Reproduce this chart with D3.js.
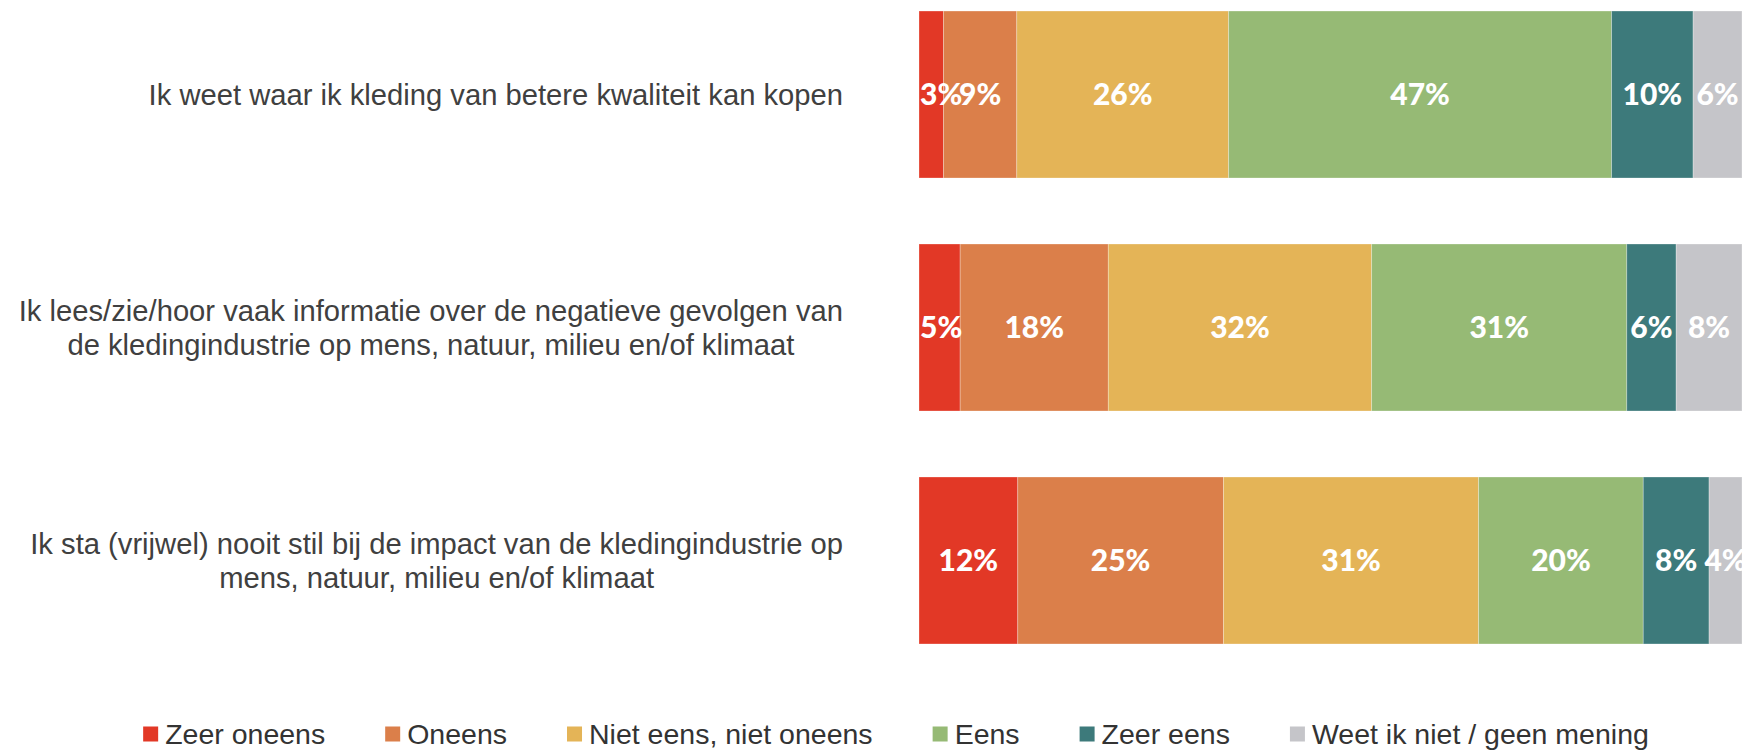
<!DOCTYPE html>
<html>
<head>
<meta charset="utf-8">
<script src="https://cdn.jsdelivr.net/npm/d3@7"></script>
<style>
  html, body { margin: 0; padding: 0; background: #ffffff; }
  svg { display: block; }
</style>
</head>
<body>
<svg id="chart" width="1748" height="750"></svg>
<script>
// Survey statements (each line of a label is a separate entry)
const statements = [
  ["Ik weet waar ik kleding van betere kwaliteit kan kopen"],
  ["Ik lees/zie/hoor vaak informatie over de negatieve gevolgen van",
   "de kledingindustrie op mens, natuur, milieu en/of klimaat"],
  ["Ik sta (vrijwel) nooit stil bij de impact van de kledingindustrie op",
   "mens, natuur, milieu en/of klimaat"]
];

// Answer categories, left to right
const answers = ["Zeer oneens", "Oneens", "Niet eens, niet oneens", "Eens", "Zeer eens", "Weet ik niet / geen mening"];
const answerColors = ["#E23826", "#DB7F4A", "#E4B457", "#96BA75", "#3D7A7B", "#C5C5C9"];

// Share of respondents (%) per statement, in the order of the answers
const zeerOneens = [3, 5, 12];
const oneens     = [9, 18, 25];
const neutraal   = [26, 32, 31];
const eens       = [47, 31, 20];
const zeerEens   = [10, 6, 8];
const weetNiet   = [6, 8, 4];

const series = [zeerOneens, oneens, neutraal, eens, zeerEens, weetNiet];

const svg = d3.select("#chart");
const plotLeft = 919, plotRight = 1742;
const labelRight = 843;
const textFont = "'Liberation Sans', Arimo, Arial, Helvetica, sans-serif";

const y = d3.scaleBand()
  .domain(d3.range(statements.length))
  .range([-22, 677])
  .paddingInner(0.2833)
  .paddingOuter(0.1417);

// One row per statement: each row is normalised to a full bar
const rows = statements.map((s, i) => {
  const vals = series.map(sr => sr[i]);
  const total = d3.sum(vals);
  const x = d3.scaleLinear().domain([0, total]).range([plotLeft, plotRight]);
  let acc = 0;
  const segs = vals.map((v, k) => {
    const seg = { row: i, k, v, x0: x(acc), x1: x(acc + v) };
    acc += v;
    return seg;
  });
  return { i, segs };
});

const barG = svg.append("g");
rows.forEach(r => {
  const g = barG.append("g");
  g.selectAll("rect")
    .data(r.segs)
    .join("rect")
    .attr("x", d => d.x0)
    .attr("y", y(r.i))
    .attr("width", d => d.x1 - d.x0)
    .attr("height", y.bandwidth())
    .attr("fill", d => answerColors[d.k])
    .attr("stroke", "rgba(255,255,255,0.35)")
    .attr("stroke-width", 0.8);

  const labels = g.selectAll("text")
    .data(r.segs)
    .join("text")
    .attr("y", y(r.i) + y.bandwidth() / 2)
    .attr("dy", "0.36em")
    .attr("text-anchor", "middle")
    .attr("fill", "#ffffff")
    .attr("font-family", "Lato, 'Noto Sans', sans-serif")
    .attr("font-weight", 900)
    .attr("font-size", 30)
    .text(d => d.v + "%");

  // keep labels inside the plot area
  labels.each(function(d) {
    const w = this.getComputedTextLength();
    let cx = (d.x0 + d.x1) / 2;
    if (cx - w / 2 < plotLeft + 1) cx = plotLeft + 1 + w / 2;
    d3.select(this).attr("x", cx);
  });
});

// Statement labels: lines centred on each other, block right-aligned
const catG = svg.append("g")
  .attr("font-family", textFont)
  .attr("font-size", 29.2)
  .attr("fill", "#404040");

const lineH = 34;
statements.forEach((lines, i) => {
  const t = catG.append("text").attr("text-anchor", "middle");
  const cy = y(i) + y.bandwidth() / 2;
  const startY = cy - (lines.length - 1) * lineH / 2;
  const spans = lines.map((ln, j) =>
    t.append("tspan").attr("y", startY + j * lineH).attr("dy", "0.35em").text(ln)
  );
  const maxW = d3.max(spans, s => s.node().getComputedTextLength());
  spans.forEach(s => s.attr("x", labelRight - maxW / 2));
});

// Legend
const legG = svg.append("g")
  .attr("font-family", textFont)
  .attr("font-size", 28.5)
  .attr("fill", "#333333");
const legY = 734, sw = 15, swGap = 7, itemGap = 60;
const items = answers.map((a, k) => {
  const g = legG.append("g");
  g.append("rect").attr("width", sw).attr("height", sw)
    .attr("y", legY - sw / 2).attr("fill", answerColors[k]);
  const tx = g.append("text").attr("x", sw + swGap).attr("y", legY).attr("dy", "0.35em").text(a);
  return { g, w: sw + swGap + tx.node().getComputedTextLength() };
});
const totalW = d3.sum(items, d => d.w) + itemGap * (items.length - 1);
let lx = 896 - totalW / 2;
items.forEach(it => {
  it.g.attr("transform", `translate(${lx},0)`);
  lx += it.w + itemGap;
});
</script>
</body>
</html>
